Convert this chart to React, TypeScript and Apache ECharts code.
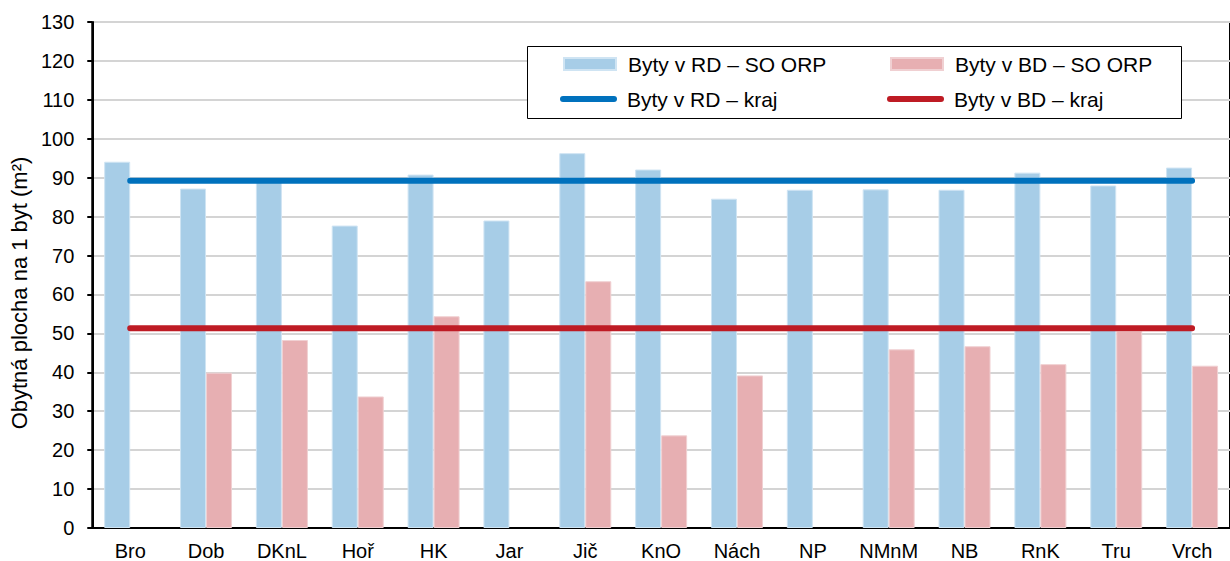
import React, { useEffect, useRef } from "react";
import * as echarts from "echarts";

const categories = ["Bro", "Dob", "DKnL", "Hoř", "HK", "Jar", "Jič", "KnO", "Nách", "NP", "NMnM", "NB", "RnK", "Tru", "Vrch"];
const rdOrp = [94.1, 87.2, 89.0, 77.7, 90.8, 79.0, 96.3, 92.1, 84.6, 86.9, 87.0, 86.9, 91.3, 88.0, 92.6];
const bdOrp: (number | null)[] = [null, 39.9, 48.3, 33.8, 54.4, null, 63.4, 23.8, 39.2, null, 45.9, 46.7, 42.1, 50.6, 41.7];
const rdKraj = [89.2, 89.2, 89.2, 89.2, 89.2, 89.2, 89.2, 89.2, 89.2, 89.2, 89.2, 89.2, 89.2, 89.2, 89.2];
const bdKraj = [51.3, 51.3, 51.3, 51.3, 51.3, 51.3, 51.3, 51.3, 51.3, 51.3, 51.3, 51.3, 51.3, 51.3, 51.3];
const yTicks = { min: 0, max: 130, interval: 10 };

const N1 = "Byty v RD – SO ORP";
const N2 = "Byty v BD – SO ORP";
const N3 = "Byty v RD – kraj";
const N4 = "Byty v BD – kraj";

const FONT = "'Liberation Sans', Arial, sans-serif";
const C_RD = "#a7cde7";
const C_BD = "#e7afb2";
const C_RDL = "#0071bd";
const C_BDL = "#be1b24";
const CAPSULE = "path://M3,0 L54,0 A3,3 0 0 1 54,6 L3,6 A3,3 0 0 1 3,0 Z";

export default function App() {
  const ref = useRef<HTMLDivElement>(null);
  useEffect(() => {
    if (!ref.current) return;
    const chart = echarts.init(ref.current, null, { renderer: "svg" });
    const txt = { color: "#000", fontSize: 20, fontFamily: FONT };
    const barLegend = {
      padding: 0,
      z: 10,
      itemWidth: 52,
      itemHeight: 12,
      icon: "rect",
      textStyle: { ...txt, fontSize: 21, padding: [0, 0, 0, 7] },
      selectedMode: false,
    };
    const lineLegend = {
      padding: 0,
      z: 10,
      itemWidth: 57,
      itemHeight: 6,
      icon: CAPSULE,
      textStyle: { ...txt, fontSize: 21, padding: [0, 0, 0, 5] },
      selectedMode: false,
    };
    chart.setOption({
      animation: false,
      backgroundColor: "#fff",
      grid: { left: 89, top: 22, width: 1150, height: 507, show: true, borderColor: "#000", borderWidth: 2, backgroundColor: "transparent" },
      legend: [
        { ...barLegend, data: [N1], left: 563, top: 53.5 },
        { ...barLegend, data: [N2], left: 890, top: 53.5 },
        { ...lineLegend, data: [N3], left: 560, top: 88.5 },
        { ...lineLegend, data: [N4], left: 887, top: 88.5 },
      ],
      graphic: [
        {
          type: "rect",
          z: 3,
          shape: { x: 527.5, y: 46.5, width: 654, height: 72 },
          style: { fill: "#fff", stroke: "#000", lineWidth: 1 },
        },
      ],
      xAxis: {
        type: "category",
        data: categories,
        axisLine: { lineStyle: { color: "#000", width: 2 } },
        axisTick: { length: 6, lineStyle: { color: "#000", width: 2 } },
        axisLabel: { ...txt, margin: 13, interval: 0 },
      },
      yAxis: {
        type: "value",
        min: yTicks.min,
        max: yTicks.max,
        interval: yTicks.interval,
        name: "Obytná plocha na 1 byt (m²)",
        nameLocation: "middle",
        nameGap: 58,
        nameTextStyle: { ...txt, fontSize: 22, padding: [0, 36, 0, 0] },
        axisLine: { show: true, lineStyle: { color: "#000", width: 2 } },
        axisTick: { show: true, length: 5, lineStyle: { color: "#000", width: 2 } },
        axisLabel: { ...txt, fontSize: 20, margin: 18 },
        splitLine: { lineStyle: { color: "#d4d4d4", width: 2 } },
      },
      series: [
        { name: N1, type: "bar", data: rdOrp, barWidth: 26, barGap: "0%", itemStyle: { color: C_RD, borderColor: "#cfe4f3", borderWidth: 1 } },
        { name: N2, type: "bar", data: bdOrp, barWidth: 26, barGap: "0%", itemStyle: { color: C_BD, borderColor: "#f0d0d2", borderWidth: 1 } },
        { name: N3, type: "line", data: rdKraj, symbol: "none", z: 4, lineStyle: { color: C_RDL, width: 6, cap: "round" }, itemStyle: { color: C_RDL } },
        { name: N4, type: "line", data: bdKraj, symbol: "none", z: 4, lineStyle: { color: C_BDL, width: 6, cap: "round" }, itemStyle: { color: C_BDL } },
      ],
    });
    return () => chart.dispose();
  }, []);
  return <div ref={ref} style={{ position: "fixed", left: 0, top: 0, width: 1230, height: 561 }} />;
}
